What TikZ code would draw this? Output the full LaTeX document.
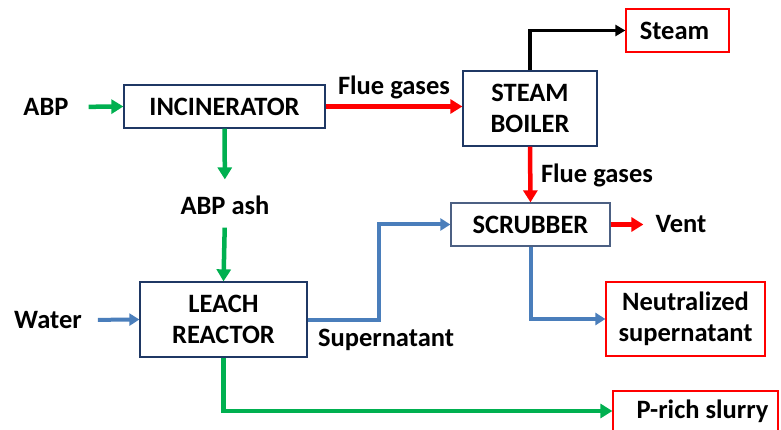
\documentclass[tikz,border=0pt]{standalone}
\usepackage{fontspec}
\setmainfont{Carlito}
\usepackage{tikz}
\usetikzlibrary{arrows.meta,positioning}
\definecolor{pgreen}{HTML}{00B050}
\definecolor{pred}{HTML}{FF0000}
\definecolor{pblue}{HTML}{4A7EBB}
\definecolor{pnavy}{HTML}{1F3864}

\begin{document}
\begin{tikzpicture}[
    x=1pt, y=-1pt,
    >={Triangle[length=12pt,width=14pt]},
    unit/.style={draw=pnavy, line width=1.3pt, fill=white, inner sep=0pt, font=\fontsize{26.5}{31}\selectfont\bfseries, align=center},
    product/.style={draw=pred, line width=1.2pt, inner sep=0pt, font=\fontsize{26.5}{31}\selectfont\bfseries, align=center},
    lbl/.style={inner sep=0pt, font=\fontsize{26.5}{31}\selectfont\bfseries},
    garrow/.style={->, line width=4.5pt, pgreen},
    rarrow/.style={->, line width=4.5pt, pred},
    barrow/.style={->, line width=4pt, pblue, >={Triangle[length=10pt,width=12pt]}},
    karrow/.style={->, line width=3.2pt, black, >={Triangle[length=10pt,width=11pt]}},
]
\useasboundingbox (0,0) rectangle (781,430);

% Units
\node[unit, minimum width=201pt, minimum height=43pt] (incin) at (224.5,106.5) {INCINERATOR};
\node[unit, minimum width=167pt, minimum height=75pt] (leach) at (223.5,319.5) {LEACH\\REACTOR};
\node[unit, minimum width=134pt, minimum height=75pt] (boiler) at (530,108.5) {STEAM\\BOILER};
\node[unit, draw=pnavy!80, minimum width=159pt, minimum height=43pt] (scrub) at (530.5,224.5) {SCRUBBER};

% Products
\node[product, minimum width=103pt, minimum height=43pt] (steam) at (677.5,30.5) {Steam\hspace{6pt}};
\node[product, minimum width=159pt, minimum height=74pt] (neut) at (685.5,319) {Neutralized\\supernatant};
\node[product, minimum width=165pt, minimum height=40pt] (slurry) at (695.5,411) {\hspace{14pt}P-rich slurry};

% Labels
\node[lbl] (abp) at (46,107) {ABP};
\node[lbl] (ash) at (225,205) {ABP ash};
\node[lbl] (water) at (48,320) {Water};
\node[lbl] (super) at (386,340) {Supernatant};
\node[lbl] (flue1) at (394,87) {Flue gases};
\node[lbl] (flue2) at (597,175) {Flue gases};
\node[lbl] (vent) at (681,224.5) {Vent};

% Arrows
\draw[garrow, shorten <=20pt] (abp.east) -- (incin.west);
\draw[garrow, shorten >=16pt] (incin.south) -- (ash.north);
\draw[garrow, shorten <=13pt] (ash.south) -- (leach.north);
\draw[garrow] (leach.south) |- (slurry.west);
\draw[barrow, shorten <=16pt] (water.east) -- (leach.west);
\draw[barrow] (leach.east) -- ++(71,0) |- (scrub.west);
\draw[barrow] (scrub.south) |- (neut.west);
\draw[rarrow] (incin.east) -- (incin.east -| boiler.west);
\draw[rarrow] (boiler.south) -- (scrub.north);
\draw[rarrow, shorten >=12pt] (scrub.east) -- (vent.west);
\draw[karrow] (boiler.north) |- (steam.west);
\end{tikzpicture}
\end{document}
